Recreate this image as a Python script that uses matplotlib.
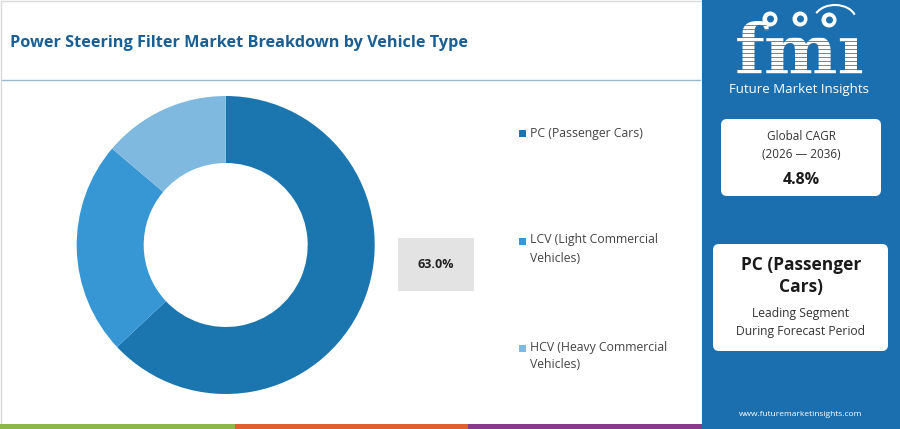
import matplotlib
matplotlib.use("Agg")
import matplotlib.pyplot as plt
from matplotlib.patches import Rectangle, FancyBboxPatch, Circle, Arc

# ---- data ----
categories = ["PC (Passenger Cars)", "LCV (Light Commercial\nVehicles)", "HCV (Heavy Commercial\nVehicles)"]
shares = [63.0, 23.2, 13.8]
colors = ["#1b75af", "#3697d4", "#7fb9e0"]
title = "Power Steering Filter Market Breakdown by Vehicle Type"
highlight_label = "63.0%"
cagr_label = "4.8%"
cagr_period = "(2026 \u2014 2036)"
leading_segment = "PC (Passenger\nCars)"

FONT = "Open Sans"
W, H = 900, 429
fig = plt.figure(figsize=(W / 100, H / 100), dpi=100)
fig.patch.set_facecolor("white")

bg = fig.add_axes([0, 0, 1, 1])
bg.set_xlim(0, W)
bg.set_ylim(H, 0)
bg.axis("off")

# white panel border
bg.add_patch(Rectangle((0.5, 0.5), 701, 424, fill=False, edgecolor="#d9d9d9", lw=1))
# title
bg.text(10, 43, title, fontsize=11.7, fontweight="bold", color="#1a5f94",
        family=FONT, va="center", ha="left")
bg.plot([2, 700], [80, 80], color="#9db9cc", lw=1)

# bottom strip
for x0, x1, c in [(0, 235, "#8db849"), (235, 468, "#e0612f"), (468, 702, "#8a3a8c")]:
    bg.add_patch(Rectangle((x0, 424), x1 - x0, 5, color=c, lw=0))

# right blue panel
panel_blue = "#1c6fae"
bg.add_patch(Rectangle((702, 0), 198, H, color=panel_blue, lw=0))

# logo
bg.text(800, 55, "fm\u0131", fontsize=50, fontweight="bold", color="white",
        family="DejaVu Serif", ha="center", va="center", zorder=3)
for yy in range(25, 80, 4):
    bg.plot([726, 874], [yy, yy], color=panel_blue, lw=0.55, zorder=4)
for cx, cy in [(770, 19), (800, 19), (829, 20)]:
    bg.add_patch(Circle((cx, cy), 7.5, color="white", lw=0, zorder=5))
    bg.add_patch(Circle((cx + 0.5, cy), 3.5, color=panel_blue, lw=0, zorder=6))
bg.add_patch(Arc((835, 20), 42, 30, theta1=200, theta2=345, color="white", lw=1.5, zorder=5))
bg.text(799, 89, "Future Market Insights", fontsize=9.5, color="white",
        family=FONT, ha="center", va="center")

# CAGR box
bg.add_patch(FancyBboxPatch((721, 119), 160, 77, boxstyle="round,pad=0,rounding_size=6",
                            facecolor="white", edgecolor="none"))
bg.text(801, 137, "Global CAGR", fontsize=8.5, color="#333333", family=FONT, ha="center", va="center")
bg.text(801, 155, cagr_period, fontsize=8.5, color="#333333", family=FONT, ha="center", va="center")
bg.text(801, 180, cagr_label, fontsize=11.5, fontweight="bold", color="#1a1a1a",
        family=FONT, ha="center", va="center")

# leading segment box
bg.add_patch(FancyBboxPatch((713, 244), 175, 107, boxstyle="round,pad=0,rounding_size=6",
                            facecolor="white", edgecolor="none"))
bg.text(801, 276, leading_segment, fontsize=12.5, fontweight="bold", color="#1a1a1a",
        family=FONT, ha="center", va="center", linespacing=1.25)
bg.text(801, 314, "Leading Segment", fontsize=8.7, color="#333333", family=FONT, ha="center", va="center")
bg.text(801, 331, "During Forecast Period", fontsize=8.7, color="#333333", family=FONT, ha="center", va="center")

bg.text(801, 415, "www.futuremarketinsights.com", fontsize=6, color="white",
        family=FONT, ha="center", va="center")

# highlight box
bg.add_patch(Rectangle((398, 238), 76, 53, color="#e3e3e3", lw=0))
bg.text(436, 265, highlight_label, fontsize=9, fontweight="bold", color="#222222",
        family=FONT, ha="center", va="center")

# legend
legend_y = [133, 249, 356]
for lab, c, y in zip(categories, colors, legend_y):
    n = lab.count("\n")
    y_first = y - n * 8
    bg.add_patch(Rectangle((519, y_first - 3.5), 7, 7, color=c, lw=0))
    bg.text(530, y, lab, fontsize=8.8, color="#444444", family=FONT,
            ha="left", va="center", linespacing=1.5)

# donut
cx, cy, R = 225.7, 245, 150
ax = fig.add_axes([(cx - R) / W, (H - cy - R) / H, 2 * R / W, 2 * R / H])
ax.set_xlim(-R, R)
ax.set_ylim(-R, R)
ax.axis("off")
ax.pie(shares, colors=colors, startangle=90, counterclock=False, radius=149,
       wedgeprops=dict(width=149 - 82, edgecolor="none"))
ax.set_xlim(-R, R)
ax.set_ylim(-R, R)

fig.savefig("out.png", dpi=100, facecolor="white")
